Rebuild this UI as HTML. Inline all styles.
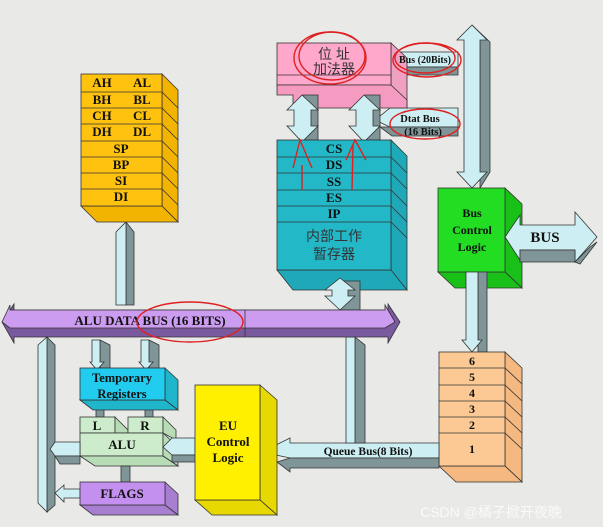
<!DOCTYPE html>
<html><head><meta charset="utf-8"><style>
html,body{margin:0;padding:0;background:#e9e9e7;}
svg{display:block}
text{font-family:"Liberation Serif","Noto Serif CJK SC",serif;font-weight:bold;fill:#111;text-anchor:middle}
.cjk{font-family:"Liberation Sans","Noto Sans CJK SC",sans-serif;font-weight:normal;fill:#333}
</style></head><body>
<svg width="603" height="527" viewBox="0 0 603 527" xmlns="http://www.w3.org/2000/svg">
<rect width="603" height="527" fill="#e9e9e7"/>
<g stroke="#333" stroke-width="0.8">
<polygon points="126,222 134,232 134,305 126,305" fill="#7f9598"/>
<polygon points="116,232 126,222 126,305 116,305" fill="#cdeef2"/>
<polygon points="162,74 178,90 178,222 162,206" fill="#f2b400"/>
<polygon points="81,206 162,206 178,222 97,222" fill="#f2b400"/>
<rect x="81" y="74" width="81" height="132" fill="#ffc20e"/>
<line x1="81" y1="92" x2="162" y2="92"/><line x1="81" y1="108" x2="162" y2="108"/><line x1="81" y1="124" x2="162" y2="124"/><line x1="81" y1="141" x2="162" y2="141"/><line x1="81" y1="157" x2="162" y2="157"/><line x1="81" y1="173" x2="162" y2="173"/><line x1="81" y1="189" x2="162" y2="189"/>
<line x1="162" y1="92" x2="178" y2="108"/><line x1="162" y1="108" x2="178" y2="124"/><line x1="162" y1="124" x2="178" y2="140"/><line x1="162" y1="141" x2="178" y2="157"/><line x1="162" y1="157" x2="178" y2="173"/><line x1="162" y1="173" x2="178" y2="189"/><line x1="162" y1="189" x2="178" y2="205"/>
<polygon points="472,25 490,42 490,172 480,188 480,42" fill="#7f9598"/>
<polygon points="472,25 457,40 464,40 464,172 457,172 472,188 487,172 480,172 480,40 487,40" fill="#cdeef2"/>
<polygon points="392,52 458,52 458,67 392,67" fill="#cdeef2"/>
<polygon points="392,67 458,67 458,75 392,75" fill="#7f9598"/>
<polygon points="375,120 390,108 458,108 458,127 390,127" fill="#cdeef2"/>
<polygon points="380,127 458,127 458,136 392,136" fill="#7f9598"/>
<polygon points="391,43 407,58 407,108 391,92" fill="#f0a0c0"/>
<rect x="277" y="43" width="114" height="42" fill="#ffa8cc"/>
<line x1="277" y1="75" x2="391" y2="75"/>
<polygon points="277,85 391,85 407,100 407,108 293,108 293,95 277,95" fill="#f59ac0"/>
<g>
<polygon points="303,95 318,95 318,140 303,140" fill="#7f9598"/>
<polygon points="302,95 318,110 311,110 311,126 318,126 302,142 287,126 294,126 294,110 287,110" fill="#cdeef2"/>
<polygon points="365,95 380,95 380,140 365,140" fill="#7f9598"/>
<polygon points="364,95 380,110 373,110 373,126 380,126 364,142 349,126 356,126 356,110 349,110" fill="#cdeef2"/>
</g>
<polygon points="391,140 407,156 407,290 391,274" fill="#1fa9b8"/>
<polygon points="277,270 391,270 407,290 293,290" fill="#1fa9b8"/>
<rect x="277" y="140" width="114" height="130" fill="#22b8c8"/>
<line x1="277" y1="157" x2="391" y2="157"/><line x1="277" y1="173" x2="391" y2="173"/><line x1="277" y1="190" x2="391" y2="190"/><line x1="277" y1="206" x2="391" y2="206"/><line x1="277" y1="222" x2="391" y2="222"/>
<line x1="391" y1="157" x2="407" y2="173"/><line x1="391" y1="173" x2="407" y2="189"/><line x1="391" y1="190" x2="407" y2="206"/><line x1="391" y1="206" x2="407" y2="222"/><line x1="391" y1="222" x2="407" y2="238"/>
<polygon points="341,281 360,281 360,310 341,310" fill="#7f9598"/>
<polygon points="340,278 355,290 348,290 348,296 355,296 340,310 325,296 332,296 332,290 325,290" fill="#cdeef2"/>
<polygon points="505,188 522,204 522,288 505,272" fill="#18c018"/>
<polygon points="438,272 505,272 522,288 455,288" fill="#18c018"/>
<rect x="438" y="188" width="67" height="84" fill="#22dd22"/>
<polygon points="505,237 520,215 520,225 575,225 575,212 597,237 575,262 575,250 520,250 520,260" fill="#cdeef2"/>
<polygon points="520,250 575,250 575,262 590,247 597,242 580,264 575,262 520,262" fill="#7f9598"/>
<polygon points="478,272 487,272 487,352 478,352" fill="#7f9598"/>
<polygon points="466,272 478,272 478,340 482,340 472,352 462,340 466,340" fill="#cdeef2"/>
<polygon points="505,352 522,368 522,482 505,466" fill="#f5b880"/>
<polygon points="439,466 505,466 522,482 456,482" fill="#f5b880"/>
<rect x="439" y="352" width="66" height="114" fill="#fcc994"/>
<line x1="439" y1="368" x2="505" y2="368"/><line x1="439" y1="385" x2="505" y2="385"/><line x1="439" y1="401" x2="505" y2="401"/><line x1="439" y1="417" x2="505" y2="417"/><line x1="439" y1="433" x2="505" y2="433"/>
<line x1="505" y1="368" x2="522" y2="384"/><line x1="505" y1="385" x2="522" y2="401"/><line x1="505" y1="401" x2="522" y2="417"/><line x1="505" y1="417" x2="522" y2="433"/><line x1="505" y1="433" x2="522" y2="449"/>
<polygon points="262,452 290,438 290,443 439,443 439,458 290,458" fill="#cdeef2"/>
<polygon points="277,462 290,458 439,458 439,468 290,468 290,472" fill="#7f9598"/>
<polygon points="355,337 365,345 365,443 355,443" fill="#7f9598"/>
<polygon points="346,337 355,337 355,443 346,443" fill="#cdeef2"/>
<polygon points="2,322 14,304 14,310 388,310 388,304 400,322 388,343 388,337 14,337 14,343" fill="#7a5a9e"/>
<polygon points="2,322 10,305 10,310 385,310 385,305 395,322 385,328 10,328" fill="#cc9cf0"/>
<line x1="245" y1="310" x2="245" y2="337"/>
<polygon points="47,337 55,345 55,505 47,512" fill="#7f9598"/>
<polygon points="38,345 47,337 47,512 38,503" fill="#cdeef2"/>
<polygon points="100,340 110,345 110,368 100,368" fill="#7f9598"/>
<polygon points="92,340 100,340 100,362 104,362 97,370 90,362 92,362" fill="#cdeef2"/>
<polygon points="149,340 159,345 159,368 149,368" fill="#7f9598"/>
<polygon points="141,340 149,340 149,362 153,362 146,370 139,362 141,362" fill="#cdeef2"/>
<polygon points="96,400 104,400 104,417 96,417" fill="#7f9598"/>
<polygon points="145,400 153,400 153,417 145,417" fill="#7f9598"/>
<polygon points="165,368 178,380 178,410 165,400" fill="#1fb6cc"/>
<polygon points="80,400 165,400 178,410 93,410" fill="#1fb6cc"/>
<rect x="80" y="368" width="85" height="32" fill="#22ccee"/>
<rect x="80" y="417" width="35" height="16" fill="#cdeccc"/>
<polygon points="115,417 128,430 128,433 115,433" fill="#b8dcb6"/>
<rect x="128" y="417" width="35" height="16" fill="#cdeccc"/>
<polygon points="163,417 176,430 176,440 163,433" fill="#b8dcb6"/>
<rect x="80" y="433" width="83" height="23" fill="#cdeccc"/>
<polygon points="163,433 178,447 178,466 163,456" fill="#b8dcb6"/>
<polygon points="80,456 163,456 178,466 95,466" fill="#b8dcb6"/>
<polygon points="55,442 80,442 80,456 55,456 50,449" fill="#cdeef2"/>
<polygon points="55,456 80,456 80,464 60,464" fill="#7f9598"/>
<polygon points="163,447 172,438 195,438 195,455 172,455" fill="#cdeef2"/>
<polygon points="172,455 195,455 195,462 172,462" fill="#7f9598"/>
<polygon points="121,466 130,466 130,482 121,482" fill="#7f9598"/>
<polygon points="55,493 64,485 64,489 80,489 80,498 64,498 64,502" fill="#cdeef2"/>
<polygon points="165,482 178,494 178,515 165,505" fill="#a77ed0"/>
<polygon points="80,505 165,505 178,515 93,515" fill="#a77ed0"/>
<rect x="80" y="482" width="85" height="23" fill="#c490f0"/>
<polygon points="260,385 277,400 277,515 260,500" fill="#e6d800"/>
<polygon points="195,500 260,500 277,515 212,515" fill="#e6d800"/>
<rect x="195" y="385" width="65" height="115" fill="#fff000"/>
</g>
<g font-size="13">
<text x="102" y="87">AH</text><text x="142" y="87">AL</text>
<text x="102" y="104">BH</text><text x="142" y="104">BL</text>
<text x="102" y="120">CH</text><text x="142" y="120">CL</text>
<text x="102" y="136">DH</text><text x="142" y="136">DL</text>
<text x="121" y="153">SP</text><text x="121" y="169">BP</text><text x="121" y="185">SI</text><text x="121" y="201">DI</text>
<text x="334" y="153">CS</text><text x="334" y="169">DS</text><text x="334" y="186">SS</text><text x="334" y="202">ES</text><text x="334" y="218">IP</text>
<text x="472" y="365" font-size="12">6</text><text x="472" y="381" font-size="12">5</text><text x="472" y="397" font-size="12">4</text><text x="472" y="413" font-size="12">3</text><text x="472" y="429" font-size="12">2</text><text x="472" y="453" font-size="12">1</text>
<text x="472" y="217" font-size="12">Bus</text><text x="472" y="234" font-size="12">Control</text><text x="472" y="251" font-size="12">Logic</text>
<text x="545" y="242" font-size="15">BUS</text>
<text x="150" y="325">ALU DATA BUS (16 BITS)</text>
<text x="122" y="382" font-size="12.5">Temporary</text><text x="122" y="398" font-size="12.5">Registers</text>
<text x="97" y="430">L</text><text x="145" y="430">R</text><text x="122" y="449">ALU</text>
<text x="122" y="498">FLAGS</text>
<text x="228" y="430">EU</text><text x="228" y="446">Control</text><text x="228" y="462">Logic</text>
<text x="368" y="455" font-size="11.5">Queue  Bus(8 Bits)</text>
<text x="425" y="63" font-size="10">Bus (20Bits)</text>
<text x="420" y="122" font-size="10.5">Dtat Bus</text><text x="423" y="135" font-size="10.5">(16 Bits)</text>
</g>
<text class="cjk" x="334" y="59" font-size="14">位  址</text>
<text class="cjk" x="334" y="74" font-size="14">加法器</text>
<text class="cjk" x="334" y="241" font-size="14">内部工作</text>
<text class="cjk" x="334" y="259" font-size="14">暂存器</text>
<text class="cjk" x="491" y="517" font-size="14" style="fill:#fafafa;font-weight:normal">CSDN @橘子掀开夜晚</text>
<g fill="none" stroke="#e02020" stroke-width="1.4">
<ellipse cx="330" cy="58" rx="36" ry="26"/>
<ellipse cx="332" cy="56" rx="33" ry="24"/>
<ellipse cx="427" cy="60" rx="34" ry="17"/>
<ellipse cx="425" cy="58" rx="30" ry="15"/>
<ellipse cx="425" cy="124" rx="35" ry="15"/>
<ellipse cx="190" cy="322" rx="53" ry="20"/>
<path d="M293,168 L300,140 L312,168 M302,165 L302,190"/>
<path d="M346,160 L355,140 L366,160 M353,145 L352,190"/>
</g>
</svg>
</body></html>
